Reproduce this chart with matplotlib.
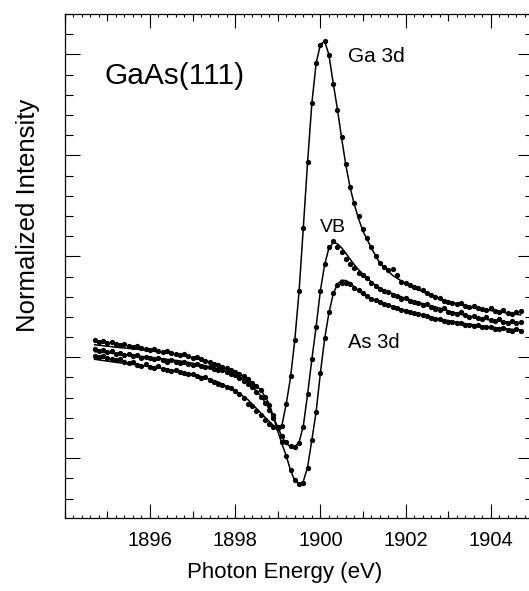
import numpy as np
import matplotlib.pyplot as plt
from matplotlib.ticker import MultipleLocator, NullFormatter, FixedLocator

plt.rcParams['font.family'] = ['Liberation Sans', 'DejaVu Sans']

# measured points, 0.1 eV steps
energy = [1894.7, 1894.8, 1894.9, 1895.0, 1895.1, 1895.2, 1895.3, 1895.4, 1895.5, 1895.6,
          1895.7, 1895.8, 1895.9, 1896.0, 1896.1, 1896.2, 1896.3, 1896.4, 1896.5, 1896.6,
          1896.7, 1896.8, 1896.9, 1897.0, 1897.1, 1897.2, 1897.3, 1897.4, 1897.5, 1897.6,
          1897.7, 1897.8, 1897.9, 1898.0, 1898.1, 1898.2, 1898.3, 1898.4, 1898.5, 1898.6,
          1898.7, 1898.8, 1898.9, 1899.0, 1899.1, 1899.2, 1899.3, 1899.4, 1899.5, 1899.6,
          1899.7, 1899.8, 1899.9, 1900.0, 1900.1, 1900.2, 1900.3, 1900.4, 1900.5, 1900.6,
          1900.7, 1900.8, 1900.9, 1901.0, 1901.1, 1901.2, 1901.3, 1901.4, 1901.5, 1901.6,
          1901.7, 1901.8, 1901.9, 1902.0, 1902.1, 1902.2, 1902.3, 1902.4, 1902.5, 1902.6,
          1902.7, 1902.8, 1902.9, 1903.0, 1903.1, 1903.2, 1903.3, 1903.4, 1903.5, 1903.6,
          1903.7, 1903.8, 1903.9, 1904.0, 1904.1, 1904.2, 1904.3, 1904.4, 1904.5, 1904.6,
          1904.7]

ga_pts = [1.005, 1.000, 1.008, 0.996, 0.990, 0.985, 0.992, 0.978, 0.972, 0.975,
          0.962, 0.958, 0.965, 0.950, 0.947, 0.955, 0.940, 0.936, 0.931, 0.938,
          0.925, 0.921, 0.915, 0.918, 0.905, 0.898, 0.902, 0.887, 0.878, 0.870,
          0.862, 0.855, 0.848, 0.832, 0.820, 0.800, 0.768, 0.760, 0.732, 0.712,
          0.690, 0.672, 0.655, 0.648, 0.662, 0.770, 0.905, 1.085, 1.330, 1.640,
          1.965, 2.260, 2.455, 2.548, 2.566, 2.498, 2.355, 2.225, 2.090, 1.955,
          1.845, 1.765, 1.700, 1.635, 1.590, 1.545, 1.500, 1.468, 1.445, 1.430,
          1.438, 1.405, 1.375, 1.366, 1.358, 1.350, 1.344, 1.333, 1.320, 1.308,
          1.300, 1.292, 1.280, 1.276, 1.270, 1.262, 1.268, 1.255, 1.250, 1.256,
          1.245, 1.240, 1.236, 1.242, 1.230, 1.226, 1.232, 1.220, 1.215, 1.222,
          1.228]

vb_pts = [1.040, 1.032, 1.036, 1.025, 1.030, 1.018, 1.022, 1.012, 1.015, 1.004,
          1.010, 0.998, 1.003, 0.995, 0.990, 0.996, 0.985, 0.978, 0.985, 0.976,
          0.972, 0.978, 0.966, 0.962, 0.968, 0.955, 0.950, 0.953, 0.942, 0.936,
          0.938, 0.925, 0.918, 0.910, 0.898, 0.885, 0.870, 0.852, 0.830, 0.805,
          0.775, 0.738, 0.700, 0.655, 0.612, 0.578, 0.562, 0.555, 0.574, 0.655,
          0.818, 0.992, 1.150, 1.330, 1.462, 1.545, 1.575, 1.548, 1.520, 1.485,
          1.462, 1.440, 1.418, 1.405, 1.392, 1.368, 1.355, 1.338, 1.330, 1.322,
          1.308, 1.302, 1.290, 1.296, 1.280, 1.272, 1.268, 1.258, 1.262, 1.248,
          1.240, 1.236, 1.242, 1.226, 1.220, 1.215, 1.222, 1.208, 1.200, 1.205,
          1.195, 1.190, 1.198, 1.186, 1.180, 1.188, 1.176, 1.172, 1.180, 1.168,
          1.175]

as_pts = [1.085, 1.078, 1.082, 1.072, 1.076, 1.066, 1.060, 1.064, 1.055, 1.050,
          1.054, 1.045, 1.040, 1.038, 1.042, 1.030, 1.026, 1.030, 1.020, 1.016,
          1.012, 1.016, 1.004, 0.998, 1.000, 0.990, 0.982, 0.978, 0.968, 0.960,
          0.952, 0.945, 0.938, 0.925, 0.916, 0.905, 0.890, 0.872, 0.858, 0.838,
          0.805, 0.765, 0.712, 0.650, 0.578, 0.510, 0.440, 0.392, 0.372, 0.378,
          0.452, 0.590, 0.728, 0.920, 1.095, 1.222, 1.320, 1.360, 1.368, 1.370,
          1.362, 1.345, 1.332, 1.318, 1.305, 1.290, 1.282, 1.275, 1.262, 1.258,
          1.250, 1.242, 1.236, 1.230, 1.224, 1.218, 1.212, 1.208, 1.202, 1.196,
          1.192, 1.188, 1.180, 1.176, 1.174, 1.168, 1.170, 1.162, 1.160, 1.155,
          1.158, 1.150, 1.148, 1.152, 1.142, 1.140, 1.145, 1.136, 1.132, 1.138,
          1.130]

# fitted curves
fit_energy = [1894.7, 1895.2, 1895.7, 1896.2, 1896.7, 1897.2, 1897.6, 1898.0, 1898.3, 1898.6,
              1898.8, 1899.0, 1899.1, 1899.2, 1899.3, 1899.4, 1899.5, 1899.6, 1899.7, 1899.8,
              1899.9, 1900.0, 1900.1, 1900.2, 1900.3, 1900.4, 1900.5, 1900.6, 1900.7, 1900.8,
              1900.9, 1901.0, 1901.2, 1901.4, 1901.7, 1902.0, 1902.4, 1902.8, 1903.3, 1903.8,
              1904.3, 1904.7]

ga_fit = [0.990, 0.975, 0.962, 0.948, 0.930, 0.905, 0.878, 0.835, 0.790, 0.725,
          0.682, 0.642, 0.665, 0.770, 0.900, 1.085, 1.325, 1.640, 1.965, 2.255,
          2.455, 2.548, 2.565, 2.500, 2.360, 2.230, 2.085, 1.950, 1.840, 1.755,
          1.685, 1.625, 1.540, 1.465, 1.405, 1.365, 1.325, 1.290, 1.260, 1.238,
          1.222, 1.210]

vb_fit = [1.028, 1.018, 1.007, 0.995, 0.982, 0.963, 0.942, 0.915, 0.875, 0.810,
          0.745, 0.655, 0.605, 0.572, 0.558, 0.556, 0.578, 0.660, 0.815, 0.988,
          1.150, 1.328, 1.458, 1.540, 1.568, 1.562, 1.542, 1.515, 1.485, 1.458,
          1.433, 1.412, 1.372, 1.340, 1.315, 1.292, 1.266, 1.244, 1.212, 1.190,
          1.177, 1.168]

as_fit = [1.062, 1.050, 1.040, 1.027, 1.012, 0.990, 0.962, 0.930, 0.892, 0.840,
          0.770, 0.635, 0.570, 0.512, 0.440, 0.390, 0.372, 0.385, 0.455, 0.590,
          0.728, 0.920, 1.090, 1.218, 1.312, 1.362, 1.382, 1.380, 1.368, 1.348,
          1.328, 1.312, 1.288, 1.272, 1.252, 1.232, 1.210, 1.190, 1.170, 1.155,
          1.142, 1.135]

xtick_labels = [1896, 1898, 1900, 1902, 1904]

fig = plt.figure(figsize=(5.29, 5.91), dpi=100)
ax = fig.add_axes([0.1225, 0.1235, 0.8856, 0.8528])

for pts, fit in [(ga_pts, ga_fit), (vb_pts, vb_fit), (as_pts, as_fit)]:
    ax.plot(energy, pts, 'o', color='black', markersize=3.8, markeredgewidth=0)
    ax.plot(fit_energy, fit, '-', color='black', linewidth=1.1)

ax.set_xlim(1894.0, 1905.0)
ax.set_ylim(0.204, 2.70)

ax.xaxis.set_major_locator(FixedLocator(xtick_labels))
ax.xaxis.set_minor_locator(MultipleLocator(1))
ax.yaxis.set_major_locator(MultipleLocator(0.5))
ax.yaxis.set_minor_locator(MultipleLocator(0.1))
ax.yaxis.set_major_formatter(NullFormatter())
ax.tick_params(which='both', direction='in', top=True, right=True, width=0.8, colors='black')
ax.tick_params(axis='x', which='major', length=10, labelsize=14.5, pad=9.5)
ax.tick_params(axis='x', which='minor', length=5)
ax.tick_params(axis='y', which='major', length=11)
ax.tick_params(axis='y', which='minor', length=5.5)

# finest x ticks (every 0.2 eV) on bottom and top
for side in ['bottom', 'top']:
    sec = ax.secondary_xaxis(side)
    sec.xaxis.set_major_locator(MultipleLocator(0.2))
    sec.xaxis.set_major_formatter(NullFormatter())
    sec.tick_params(direction='in', length=2.2, width=0.8)
    sec.spines[side].set_visible(False)

for s in ax.spines.values():
    s.set_linewidth(0.9)

ax.set_xlabel('Photon Energy (eV)', fontsize=16)
ax.xaxis.set_label_coords(0.47, -0.088)
ax.set_ylabel('Normalized Intensity', fontsize=18.5)
ax.yaxis.set_label_coords(-0.053, 0.601)

ax.text(0.0858, 0.861, 'GaAs(111)', transform=ax.transAxes, fontsize=21.5,
        ha='left', va='baseline')
ax.text(1900.65, 2.463, 'Ga 3d', fontsize=15, ha='left', va='baseline')
ax.text(1899.99, 1.621, 'VB', fontsize=14, ha='left', va='baseline')
ax.text(1900.65, 1.046, 'As 3d', fontsize=14.5, ha='left', va='baseline')

plt.savefig('out.png', dpi=100)
plt.close()
